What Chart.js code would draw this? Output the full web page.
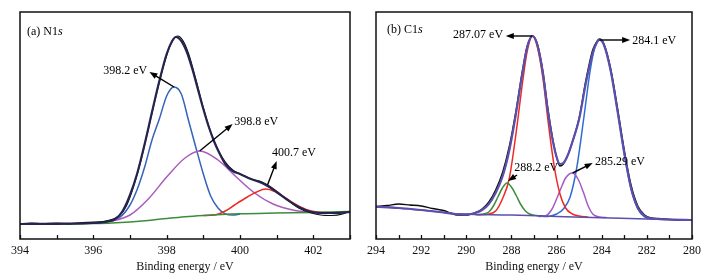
<!DOCTYPE html>
<html lang="en">
<head>
<meta charset="UTF-8" />
<title>XPS N1s and C1s</title>
<script src="https://cdn.jsdelivr.net/npm/chart.js@4.4.1/dist/chart.umd.min.js"></script>
<style>
  body { margin: 0; background: #fff; }
  .wrap { position: relative; width: 710px; height: 278px; }
  canvas { position: absolute; top: 0; }
  #chartA { left: 0; }
  #chartB { left: 355px; }
</style>
</head>
<body>
<div class="wrap">
  <canvas id="chartA" width="355" height="278"></canvas>
  <canvas id="chartB" width="355" height="278"></canvas>
</div>
<script>
// ---- (a) N1s : [binding energy, intensity] ----
const n1sRaw = [[394,15],[394.3,16],[394.6,15.4],[395,15.9],[395.3,15.2],[395.7,16.4],[396,16.8],[396.3,17.6],
  [396.5,19.5],[396.7,23],[396.9,33],[397.1,53],[397.3,79],[397.5,110],[397.7,142],[397.9,171],[398.1,194],
  [398.3,203],[398.45,198],[398.6,185],[398.8,159],[399,131],[399.2,107],[399.4,89],[399.6,77],[399.8,69],
  [400,65],[400.3,60],[400.6,57],[400.8,53],[401,47.5],[401.3,39],[401.6,31],[401.9,26.5],[402.2,24],
  [402.5,23.5],[402.8,25],[403,28]];
const n1sFit = [[394,15],[395,15.2],[396,16],[396.4,17.5],[396.6,20],[396.8,28],[397,44],[397.2,66],[397.4,95],
  [397.6,127],[397.8,158],[398,185],[398.15,198],[398.25,202],[398.4,198],[398.55,187],[398.7,170],[398.85,150],
  [399,130],[399.15,112],[399.3,97],[399.45,85],[399.6,75],[399.8,68],[400,65],[400.3,60],[400.6,56],[400.8,52],
  [401,47],[401.3,39],[401.6,32],[401.9,27.5],[402.2,26],[402.6,26],[403,27]];
const n1sPeak398_2 = [[396,16],[396.4,18],[396.7,21],[397,34],[397.2,50],[397.4,72],[397.6,99],[397.8,120],
  [398,143],[398.2,152],[398.4,145],[398.6,118],[398.8,91],[399,65],[399.2,43],[399.4,31],[399.6,25],[399.8,24],[400,25]];
const n1sPeak398_8 = [[394,15],[395,15.2],[396,16],[396.5,18],[397,24],[397.5,40],[398,62],[398.5,81],[398.9,88],
  [399.4,79],[399.9,62],[400.4,46],[400.9,35],[401.5,28.5],[402,26.5],[402.5,26],[403,27]];
const n1sPeak400_7 = [[399,23.5],[399.3,24],[399.6,28],[399.85,34],[400.2,42],[400.45,47],[400.7,50],[400.95,47.5],
  [401.2,42],[401.5,35],[401.8,29.5],[402.1,27],[402.4,26.5]];
const n1sBackground = [[394,15],[395,15],[396,15.5],[396.5,16],[397,17],[397.5,18.5],[398,20.5],[398.5,22.3],
  [399,23.6],[399.5,24.6],[400,25.3],[401,26],[402,26.6],[403,27.5]];

// ---- (b) C1s ----
const c1sRaw = [[294,32.5],[293.5,33.5],[293,35],[292.5,34],[292,33],[291.5,30.5],[291,28.5],[290.7,26],[290.4,24],
  [290,24],[289.6,26.5],[289.3,30],[289,37],[288.7,49],[288.4,66],[288.1,92],[287.8,128],[287.5,170],[287.3,193],
  [287.07,203],[286.85,195],[286.6,167],[286.4,133],[286.2,104],[286,82],[285.85,73],[285.7,75],[285.5,84],
  [285.3,97],[285,121],[284.7,159],[284.4,189],[284.2,198],[284.1,200],[283.9,195],[283.6,170],[283.3,131],
  [283,89],[282.7,54],[282.4,33],[282.1,24],[281.8,21],[281.5,20.5],[281,19.5],[280.5,19],[280,19]];
const c1sFit = [[294,32.3],[293,31],[292,29],[291,26.5],[290.5,25],[290,24.7],[289.6,26],[289.3,29],[289,35],
  [288.7,46],[288.4,62],[288.1,88],[287.8,125],[287.5,168],[287.3,192],[287.07,203],[286.85,194],[286.6,165],
  [286.4,130],[286.2,102],[286,82],[285.85,75],[285.7,76],[285.5,84],[285.3,97],[285,120],[284.7,156],[284.4,186],
  [284.2,197],[284.1,199.5],[283.9,194],[283.6,168],[283.3,128],[283,86],[282.7,51],[282.4,31],[282.1,23],
  [281.8,20.5],[281,19.5],[280,19]];
const c1sBackground = [[294,32.3],[293,31],[292,29],[291,26.5],[290.5,25.2],[290,24.7],[288,24],[286,22.5],
  [284,21.3],[282,20],[280,19]];
const c1sPeak288_2 = [[289.6,24.2],[289.3,24.8],[289,27],[288.8,33],[288.6,42],[288.4,51],[288.2,56],[288,52],
  [287.8,44],[287.6,35],[287.4,28.5],[287.2,25],[286.9,23.5],[286.6,23.2]];
const c1sPeak287_07 = [[289.5,24.2],[289,25],[288.7,28],[288.4,40],[288.1,60],[287.8,105],[287.5,158],
  [287.3,188],[287.07,203],[286.85,192],[286.6,160],[286.35,113],[286.1,72],[285.85,45],[285.6,31],[285.3,25],
  [285,23],[284.6,22]];
const c1sPeak285_29 = [[286.8,22.6],[286.5,23],[286.2,30],[286,40],[285.8,51],[285.6,61],[285.3,66],[285.05,60],
  [284.8,46],[284.6,33],[284.4,25],[284.1,22],[283.8,21.5]];
const c1sPeak284_1 = [[286.6,22.5],[286.3,22.8],[286,25],[285.7,30],[285.4,42],[285.1,72],[284.8,120],[284.5,170],
  [284.3,192],[284.1,199],[283.9,194],[283.6,168],[283.3,128],[283,85],[282.7,50],[282.4,30],[282.1,22],
  [281.8,20.3],[281.5,20]];

// peak labels: arrow from -> to (head at "to"), text at label
const n1sNotes = [
  { text: '398.2 eV', from: [398.2, 152], to: [397.53, 167], label: [397.47, 168], align: 'right' },
  { text: '398.8 eV', from: [398.9, 88], to: [399.8, 115], label: [399.84, 117], align: 'left' },
  { text: '400.7 eV', from: [400.75, 54], to: [401.0, 78], label: [401.47, 86], align: 'center' }
];
const c1sNotes = [
  { text: '287.07 eV', from: [287.07, 203], to: [288.25, 203], label: [288.37, 204], align: 'right' },
  { text: '284.1 eV', from: [284.1, 199], to: [282.74, 199], label: [282.65, 198], align: 'left' },
  { text: '288.2 eV', from: [287.75, 64], to: [288.15, 58], label: [287.88, 71], align: 'left' },
  { text: '285.29 eV', from: [285.29, 66], to: [284.4, 76], label: [284.3, 77], align: 'left' }
];

const FONT = '"Liberation Serif", "Times New Roman", serif';
Chart.defaults.font.family = FONT;
Chart.defaults.color = '#111';

function line(data, color, width) {
  return {
    data: data.map(p => ({ x: p[0], y: p[1] })),
    borderColor: color, backgroundColor: color, borderWidth: width,
    pointRadius: 0, showLine: true, fill: false, cubicInterpolationMode: 'monotone'
  };
}

// box around the plot plus inward tick marks on the energy axis
const frame = {
  id: 'frame',
  afterDraw(chart) {
    const a = chart.chartArea, c = chart.ctx, xs = chart.scales.x;
    c.save();
    c.strokeStyle = '#111';
    c.lineWidth = 1.3;
    xs.ticks.forEach(t => {
      const px = Math.round(xs.getPixelForValue(t.value)) + 0.5;
      c.beginPath();
      c.moveTo(px, a.bottom);
      c.lineTo(px, a.bottom - 4);
      c.stroke();
    });
    c.lineWidth = 1.5;
    c.strokeRect(a.left, a.top, a.right - a.left, a.bottom - a.top);
    c.restore();
  }
};

function arrow(c, x1, y1, x2, y2) {
  const ang = Math.atan2(y2 - y1, x2 - x1), len = 8, w = 3;
  c.beginPath();
  c.moveTo(x1, y1);
  c.lineTo(x2 - Math.cos(ang) * len * 0.8, y2 - Math.sin(ang) * len * 0.8);
  c.stroke();
  c.beginPath();
  c.moveTo(x2, y2);
  c.lineTo(x2 - Math.cos(ang) * len - Math.sin(ang) * w, y2 - Math.sin(ang) * len + Math.cos(ang) * w);
  c.lineTo(x2 - Math.cos(ang) * len + Math.sin(ang) * w, y2 - Math.sin(ang) * len - Math.cos(ang) * w);
  c.closePath();
  c.fill();
}

function notesPlugin(notes, title, titleItal, titlePos) {
  return {
    id: 'notes',
    afterDatasetsDraw(chart) {
      const c = chart.ctx, xs = chart.scales.x, ys = chart.scales.y;
      c.save();
      c.strokeStyle = '#000';
      c.fillStyle = '#000';
      c.lineWidth = 1.4;
      notes.forEach(n => {
        arrow(c, xs.getPixelForValue(n.from[0]), ys.getPixelForValue(n.from[1]),
          xs.getPixelForValue(n.to[0]), ys.getPixelForValue(n.to[1]));
        c.font = '12px ' + FONT;
        c.textAlign = n.align;
        c.textBaseline = 'middle';
        c.fillText(n.text, xs.getPixelForValue(n.label[0]), ys.getPixelForValue(n.label[1]));
      });
      // panel title, with italic orbital letter
      const tx = xs.getPixelForValue(titlePos[0]), ty = ys.getPixelForValue(titlePos[1]);
      c.font = '12px ' + FONT;
      c.textAlign = 'left';
      c.textBaseline = 'middle';
      c.fillText(title, tx, ty);
      const w = c.measureText(title).width;
      c.font = 'italic 12px ' + FONT;
      c.fillText(titleItal, tx + w, ty);
      c.restore();
    }
  };
}

function makeChart(id, datasets, xMin, xMax, reverse, pad, plugins) {
  return new Chart(document.getElementById(id), {
    type: 'scatter',
    data: { datasets },
    options: {
      responsive: false,
      animation: false,
      layout: { padding: { left: pad[0], right: pad[1], top: 12, bottom: 0 } },
      plugins: { legend: { display: false }, tooltip: { enabled: false } },
      scales: {
        x: {
          type: 'linear', min: xMin, max: xMax, reverse,
          afterFit: s => { s.height = 39; s.paddingLeft = 0; s.paddingRight = 0; },
          border: { display: false },
          grid: { drawOnChartArea: false, tickLength: -4, color: 'rgba(0,0,0,0)' },
          ticks: {
            stepSize: 1, autoSkip: false, maxRotation: 0, padding: 9,
            font: { size: 12 }, color: '#111',
            callback: v => (v % 2 === 0 ? String(v) : '')
          },
          title: { display: true, text: 'Binding energy / eV', font: { size: 12 }, color: '#111',
            padding: { top: 0, bottom: 4 } }
        },
        y: { display: false, min: 0, max: 227 }
      }
    },
    plugins
  });
}

makeChart('chartA', [
  line(n1sFit, '#25244f', 2.2),
  line(n1sRaw, '#0d0d0d', 1.2),
  line(n1sBackground, '#3d8b3d', 1.5),
  line(n1sPeak400_7, '#ec2a24', 1.5),
  line(n1sPeak398_8, '#ab5bbd', 1.5),
  line(n1sPeak398_2, '#3563b8', 1.5)
], 394, 403, false, [20, 5], [frame, notesPlugin(n1sNotes, '(a) N1', 's', [394.19, 207])]);

makeChart('chartB', [
  line(c1sFit, '#5b4fae', 2.2),
  line(c1sBackground, '#5b4fae', 1.5),
  line(c1sRaw, '#0d0d0d', 1.4),
  line(c1sPeak288_2, '#3d8b3d', 1.5),
  line(c1sPeak287_07, '#ec2a24', 1.5),
  line(c1sPeak285_29, '#a55bc4', 1.5),
  line(c1sPeak284_1, '#2f6cd2', 1.5)
], 280, 294, true, [21, 18], [frame, notesPlugin(c1sNotes, '(b) C1', 's', [293.51, 209])]);
</script>
</body>
</html>
